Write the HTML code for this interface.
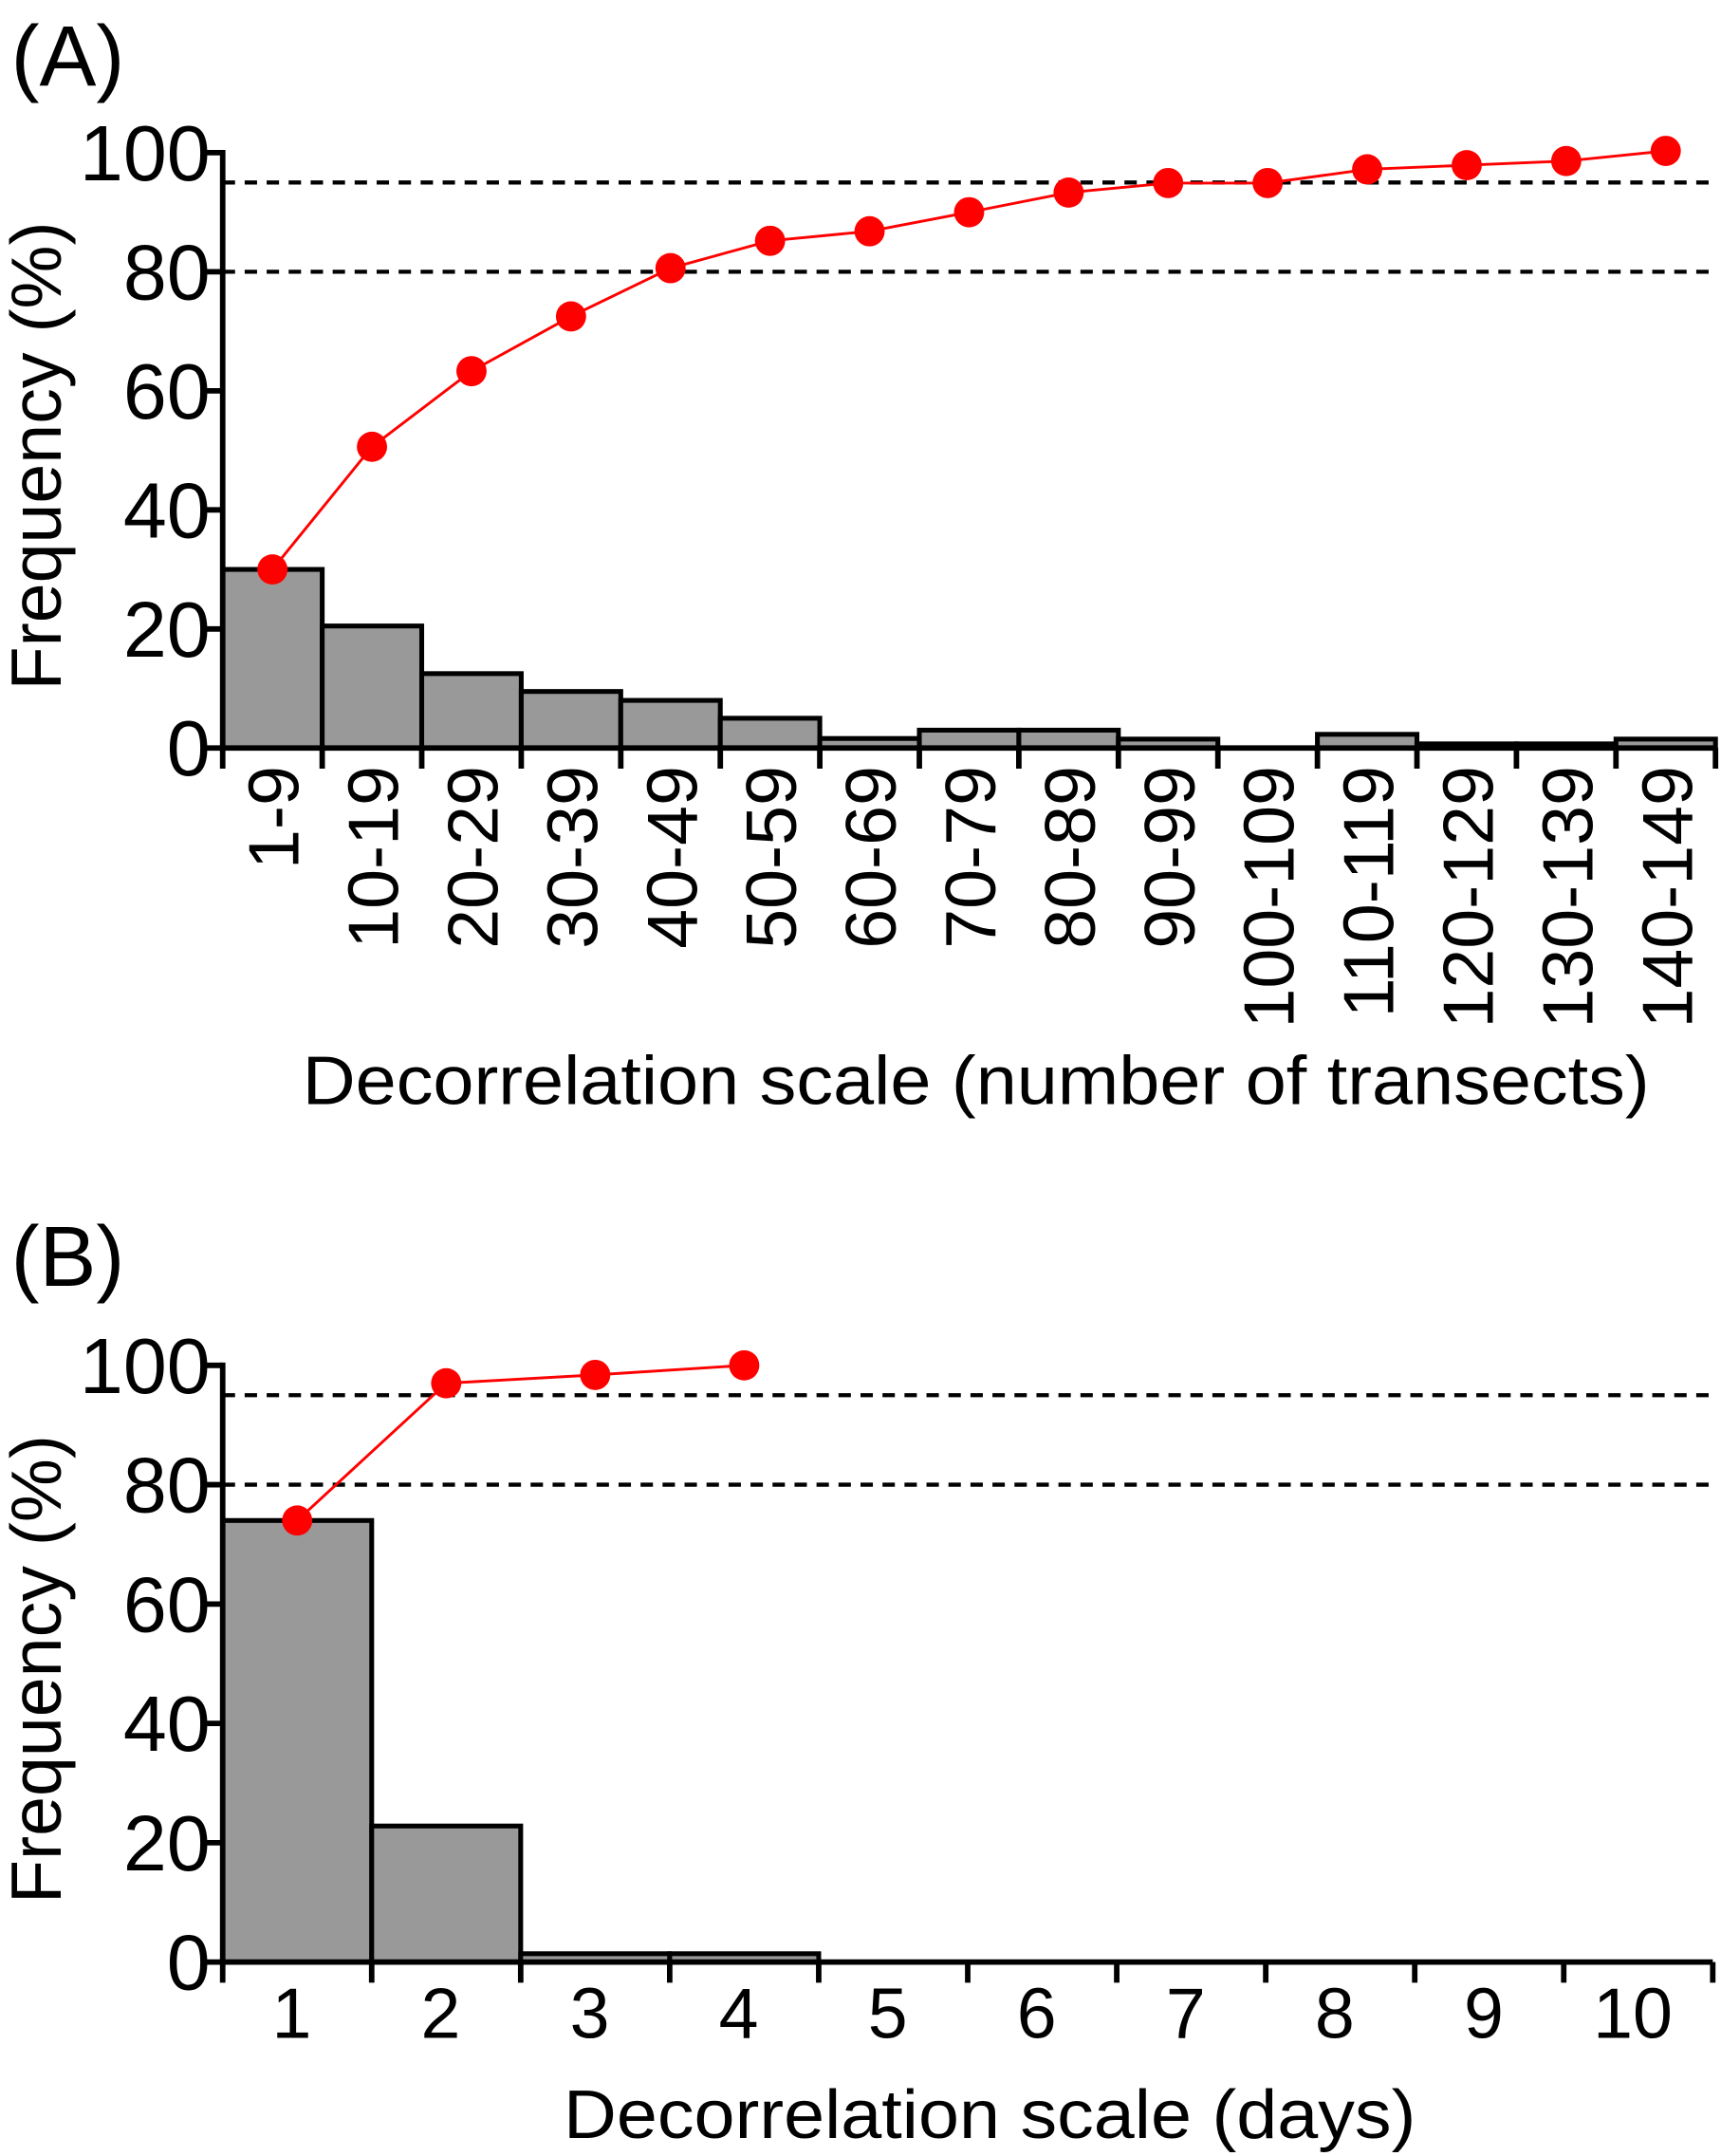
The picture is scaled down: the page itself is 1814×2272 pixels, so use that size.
<!DOCTYPE html>
<html><head><meta charset="utf-8"><style>
html,body{margin:0;padding:0;background:#fff;}
svg{display:block;font-family:"Liberation Sans",Arial,sans-serif;}
</style></head><body>
<svg id="fig" width="1814" height="2272" viewBox="0 0 1252 1568">
<g id="pa"></g>
<g id="pb"></g>
</svg>
<script>
const catsA = ["1-9","10-19","20-29","30-39","40-49","50-59","60-69","70-79","80-89","90-99","100-109","110-119","120-129","130-139","140-149"];
const barsA = [30,20.5,12.5,9.5,8,5,1.6,3,3,1.5,0,2.3,0.7,0.7,1.5];
const cumA = [30,50.6,63.3,72.5,80.6,85.2,86.8,90,93.3,94.9,94.9,97.2,97.9,98.6,100.3];
const catsB = ["1","2","3","4","5","6","7","8","9","10"];
const barsB = [74,22.8,1.4,1.4,0,0,0,0,0,0];
const cumB = [74,97,98.4,100];
const yTicks = [0,20,40,60,80,100];
const refLines = [95,80];
const NS="http://www.w3.org/2000/svg";
function mk(parent,tag,attrs,text){const e=document.createElementNS(NS,tag);for(const k in attrs)e.setAttribute(k,attrs[k]);if(text!=null)e.textContent=text;parent.appendChild(e);return e;}

function panel(g,o){
  const x0=o.x0,x1=o.x1,y0=o.y0,y100=o.y100,n=o.cats.length,bw=(x1-x0)/n;
  const ys=v=>y0-(y0-y100)*v/100;
  const xs=i=>x0+bw*i;
  refLines.forEach(v=>{
    const l=mk(g,'line',{x1:x0,x2:x1,y1:ys(v),y2:ys(v),stroke:'#000','stroke-width':3,'stroke-dasharray':'9 7'});
    
    
  });
  o.bars.forEach((v,i)=>{
    if(v<=0) return;
    const r=mk(g,'rect',{x:xs(i),y:ys(v),width:bw,height:y0-ys(v),fill:'#999',stroke:'#000','stroke-width':3.5});
    
    
  });
  const pts=o.cum.map((v,i)=>(xs(i)+bw/2)+','+ys(v)).join(' ');
  const pl=mk(g,'polyline',{points:pts,fill:'none',stroke:'#f00','stroke-width':2});
  
  
  o.cum.forEach((v,i)=>{
    const c=mk(g,'circle',{cx:xs(i)+bw/2,cy:ys(v),r:11,fill:'#f00'});
    
    
  });
  const ya=mk(g,'line',{x1:x0,x2:x0,y1:y100-2,y2:y0+2,stroke:'#000','stroke-width':4});
  
  
  const xa=mk(g,'line',{x1:x0-2,x2:x1,y1:y0,y2:y0,stroke:'#000','stroke-width':4});
  
  
  yTicks.forEach(v=>{
    mk(g,'line',{x1:x0-14,x2:x0,y1:ys(v),y2:ys(v),stroke:'#000','stroke-width':4});
    const t=mk(g,'text',{x:x0-9,y:ys(v)+20,'text-anchor':'end','font-size':57},v);
    
    
  });
  for(let i=0;i<=n;i++) mk(g,'line',{x1:xs(i),x2:xs(i),y1:y0,y2:y0+15,stroke:'#000','stroke-width':4});
  o.cats.forEach((c,i)=>{
    const cx=xs(i)+bw/2;let t;
    if(o.rot){t=mk(g,'text',{x:0,y:0,'text-anchor':'end','font-size':52,transform:`translate(${cx+19},${y0+13}) rotate(-90)`},c);}
    else{t=mk(g,'text',{x:cx-4,y:y0+55,'text-anchor':'middle','font-size':52},c);}
    
    
  });
  const yt=mk(g,'text',{x:0,y:0,'text-anchor':'middle','font-size':52,transform:`translate(${o.ytx},${(y0+y100)/2+4}) rotate(-90)`},'Frequency (%)');
  
  
  const xt=mk(g,'text',{x:o.xtx,y:o.xty,'text-anchor':'middle','font-size':50,textLength:o.xtl,lengthAdjust:'spacingAndGlyphs'},o.xtitle);
  
  
  const pt=mk(g,'text',{x:8,y:o.ply,'font-size':62},o.plabel);
  
  
}
panel(document.getElementById('pa'),{x0:162,x1:1248,y0:544,y100:111,cats:catsA,bars:barsA,cum:cumA,rot:true,ytx:44,xtx:710,xty:803,xtl:980,xtitle:'Decorrelation scale (number of transects)',plabel:'(A)',ply:62});
panel(document.getElementById('pb'),{x0:162,x1:1246,y0:1427,y100:993,cats:catsB,bars:barsB,cum:cumB,rot:false,ytx:44,xtx:720,xty:1555,xtl:620,xtitle:'Decorrelation scale (days)',plabel:'(B)',ply:935});
</script>
</body></html>
